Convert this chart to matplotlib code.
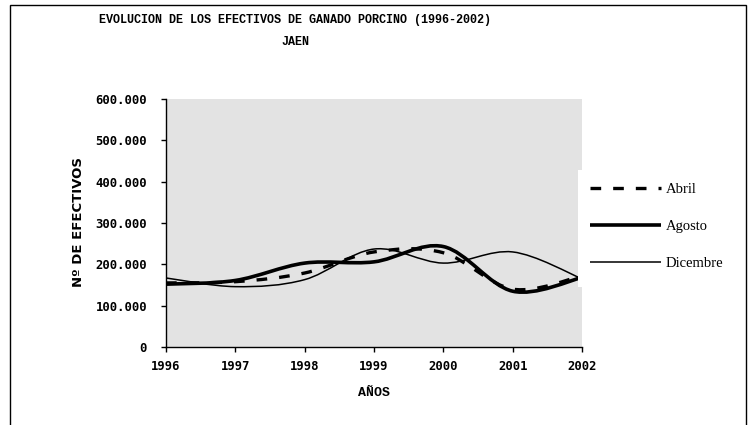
import numpy as np
import matplotlib
matplotlib.use("Agg")
import matplotlib.pyplot as plt
from matplotlib.path import Path
from matplotlib.patches import PathPatch, Rectangle
from matplotlib.lines import Line2D

# ---- data ----
years = [1996, 1997, 1998, 1999, 2000, 2001, 2002]
abril = [155000, 158000, 179000, 230000, 228000, 140000, 172000]
agosto = [152000, 161000, 203000, 206000, 243000, 135000, 168000]
diciembre = [167000, 146000, 163000, 237000, 203000, 230000, 165000]
series_names = ["Abril", "Agosto", "Dicembre"]
yticks = [0, 100000, 200000, 300000, 400000, 500000, 600000]
ytick_labels = ["0", "100.000", "200.000", "300.000", "400.000", "500.000", "600.000"]
xtick_labels = ["1996", "1997", "1998", "1999", "2000", "2001", "2002"]
title1 = "EVOLUCION DE LOS EFECTIVOS DE GANADO PORCINO (1996-2002)"
title2 = "JAEN"
xlabel = "AÑOS"
ylabel = "Nº DE EFECTIVOS"

W, H = 751, 425
fig = plt.figure(figsize=(W / 100, H / 100), dpi=100)

# outer chart border
fig.patches.append(Rectangle((10 / W, -0.05), (746 - 10) / W, 1.05 - 5 / H,
                             transform=fig.transFigure, fill=False,
                             edgecolor="black", lw=1.0))

ax = fig.add_axes([166 / W, 1 - 347 / H, (582 - 166) / W, (347 - 99) / H])
ax.set_facecolor("#E3E3E3")
ax.set_xlim(years[0], years[-1])
ax.set_ylim(yticks[0], yticks[-1])


def smooth_path(xs, ys):
    pts = np.column_stack([xs, ys]).astype(float)
    n = len(pts)
    verts = [pts[0]]
    codes = [Path.MOVETO]
    for i in range(n - 1):
        p0 = pts[i - 1] if i > 0 else pts[i]
        p1 = pts[i]
        p2 = pts[i + 1]
        p3 = pts[i + 2] if i + 2 < n else pts[i + 1]
        c1 = p1 + (p2 - p0) / 6.0
        c2 = p2 - (p3 - p1) / 6.0
        verts += [c1, c2, p2]
        codes += [Path.CURVE4] * 3
    return Path(verts, codes)


styles = [
    dict(lw=2.4, ls=(0, (3.2, 3.6))),
    dict(lw=2.6, ls="-"),
    dict(lw=1.1, ls="-"),
]
for vals, st in zip([abril, agosto, diciembre], styles):
    p = PathPatch(smooth_path(years, vals), fill=False, edgecolor="black",
                  lw=st["lw"], linestyle=st["ls"], capstyle="butt",
                  joinstyle="round")
    ax.add_patch(p)

for s in ["top", "right"]:
    ax.spines[s].set_visible(False)
for s in ["left", "bottom"]:
    ax.spines[s].set_color("black")
    ax.spines[s].set_linewidth(1.0)

tick_font = dict(family="DejaVu Sans Mono", weight="bold", size=8.8)
ax.set_xticks(years)
ax.set_xticklabels(xtick_labels, **tick_font)
ax.set_yticks(yticks)
ax.set_yticklabels(ytick_labels, **tick_font)
ax.tick_params(axis="both", direction="out", length=3.6, width=1.0,
               color="black")
ax.tick_params(axis="x", pad=6)
ax.tick_params(axis="y", pad=10)

fig.text(295 / W, 1 - 20 / H, title1, ha="center", va="center",
         family="Liberation Mono", weight="bold", size=8.5)
fig.text(295 / W, 1 - 42 / H, title2, ha="center", va="center",
         family="Liberation Mono", weight="bold", size=8.5)
fig.text(374 / W, 1 - 393 / H, xlabel, ha="center", va="center",
         family="Liberation Mono", weight="bold", size=9.5)
fig.text(78 / W, 1 - 222 / H, ylabel, ha="center", va="center",
         rotation=90, family="DejaVu Sans", weight="bold", size=9.5)

# legend background box
fig.patches.append(Rectangle((578 / W, 1 - 287 / H), (745 - 578) / W,
                             (287 - 170) / H, transform=fig.transFigure,
                             facecolor="white", edgecolor="none", zorder=3))

handles = [Line2D([], [], color="black", lw=st["lw"], linestyle=st["ls"],
                  dash_capstyle="butt", solid_capstyle="butt")
           for st in styles]
leg = fig.legend(handles, series_names, loc="upper left",
                 bbox_to_anchor=(578 / W, 1 - 171 / H), frameon=False,
                 prop=dict(family="Liberation Serif", size=10.5),
                 handlelength=4.9, handletextpad=0.3, labelspacing=1.65,
                 borderpad=0.8, borderaxespad=0)
leg.set_zorder(4)

fig.savefig("out.png", dpi=100)
